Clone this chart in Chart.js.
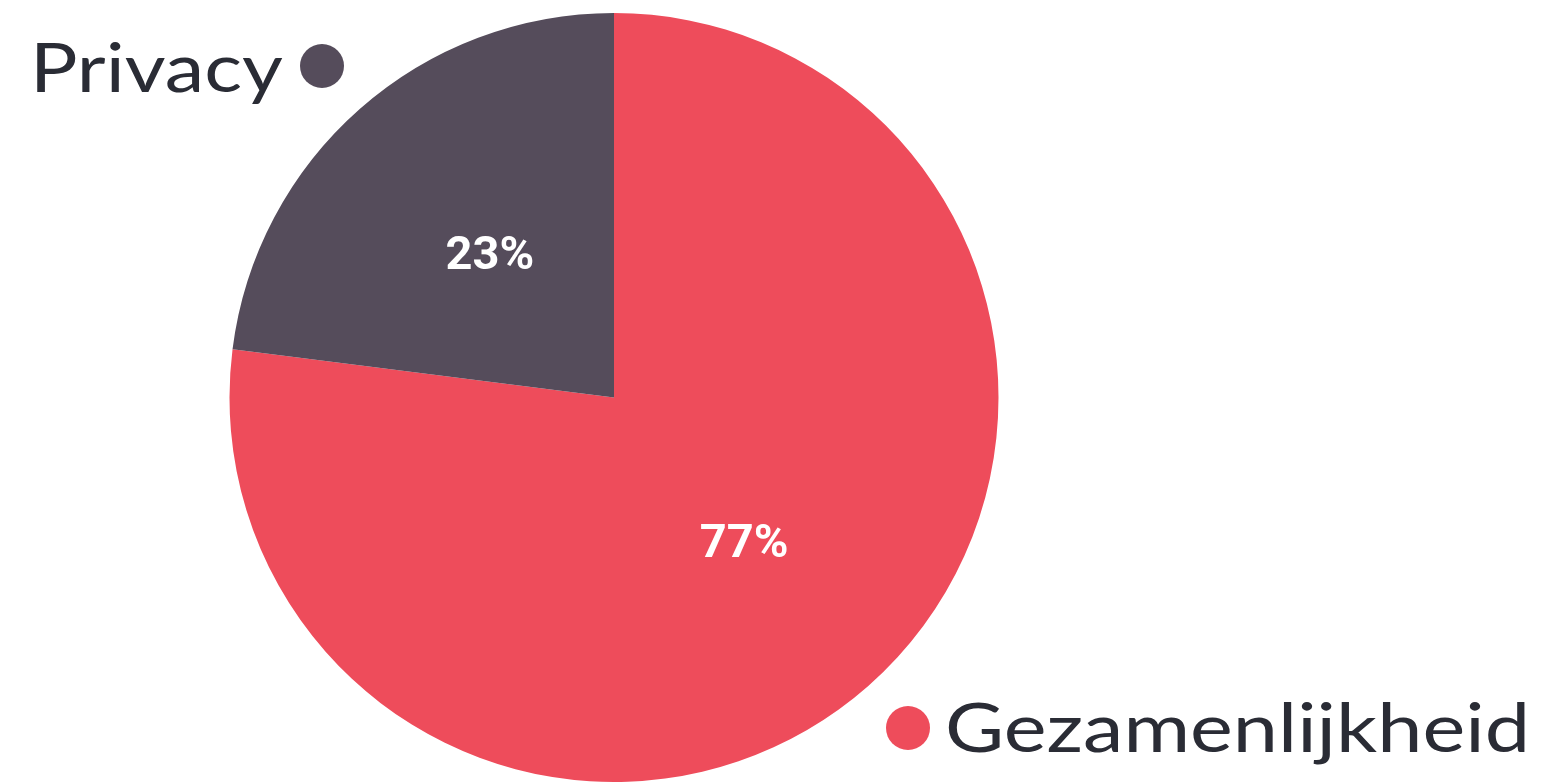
<!DOCTYPE html>
<html>
<head>
<meta charset="utf-8">
<script src="https://cdn.jsdelivr.net/npm/chart.js@4"></script>
<style>
  html, body { margin: 0; padding: 0; background: #fff; }
  #wrap { width: 1544px; height: 782px; }
</style>
</head>
<body>
<div id="wrap"><canvas id="pie"></canvas></div>
<script>
const labels = ['Gezamenlijkheid', 'Privacy'];
const values = [77, 23];
const colors = ['#ee4c5b', '#554c5b'];

// text labels next to the pie, with a coloured dot
const legendText = {
    Privacy: { x: 30, y: 92, width: 253, dotX: 322, dotY: 66 },
    Gezamenlijkheid: { x: 945, y: 752, width: 585, dotX: 908, dotY: 728 }
};

const labelPlugin = {
    id: 'sliceLabels',
    afterDatasetsDraw(chart) {
        const ctx = chart.ctx;
        const meta = chart.getDatasetMeta(0);
        ctx.save();
        meta.data.forEach((arc, i) => {
            const pos = arc.tooltipPosition();
            ctx.fillStyle = '#ffffff';
            ctx.font = 'bold 47px Roboto, "DejaVu Sans", sans-serif';
            ctx.textAlign = 'center';
            ctx.textBaseline = 'middle';
            ctx.fillText(values[i] + '%', pos.x + 3, pos.y + 4);

            const lt = legendText[labels[i]];
            ctx.font = '68px Lato, "Open Sans", sans-serif';
            ctx.textAlign = 'left';
            ctx.textBaseline = 'alphabetic';
            ctx.fillStyle = '#2a2c35';
            const w = ctx.measureText(labels[i]).width;
            ctx.save();
            ctx.translate(lt.x, lt.y);
            ctx.scale(lt.width / w, 1);
            ctx.fillText(labels[i], 0, 0);
            ctx.restore();
            ctx.beginPath();
            ctx.fillStyle = colors[i];
            ctx.arc(lt.dotX, lt.dotY, 22, 0, Math.PI * 2);
            ctx.fill();
        });
        ctx.restore();
    }
};

new Chart(document.getElementById('pie'), {
    type: 'pie',
    data: {
        labels,
        datasets: [{
            data: values,
            backgroundColor: colors,
            borderWidth: 0
        }]
    },
    options: {
        responsive: true,
        maintainAspectRatio: false,
        animation: false,
        layout: { padding: { top: 13, bottom: 0, left: 229, right: 545 } },
        plugins: {
            legend: { display: false },
            tooltip: { enabled: false }
        }
    },
    plugins: [labelPlugin]
});
</script>
</body>
</html>
